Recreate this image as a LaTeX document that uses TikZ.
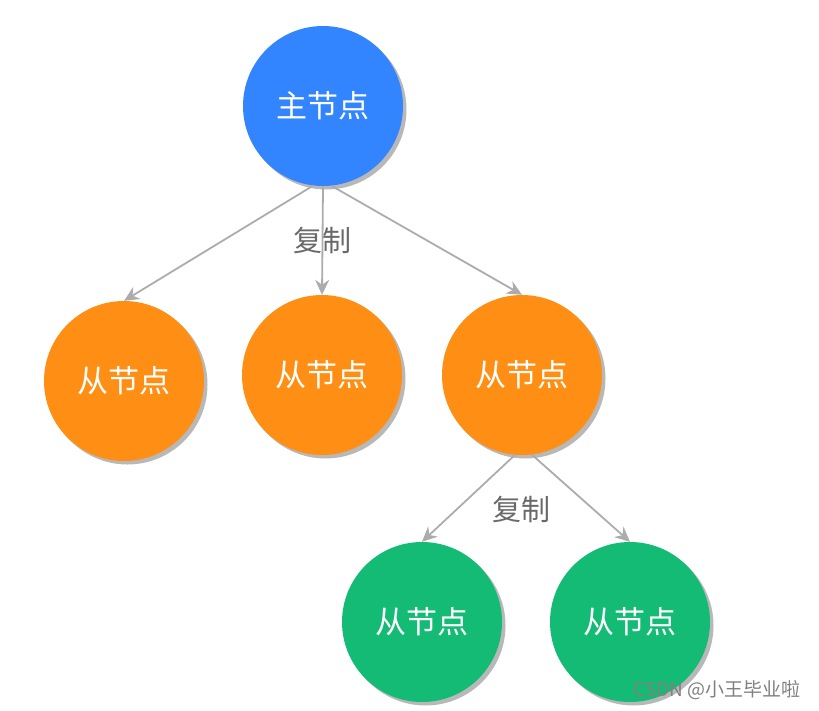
\documentclass[tikz,border=0pt]{standalone}
\usepackage{fontspec}
\newfontfamily\cjk{Noto Sans CJK SC}
\usetikzlibrary{arrows.meta}
\definecolor{mainblue}{RGB}{51,133,255}
\definecolor{orng}{RGB}{255,143,20}
\definecolor{grn}{RGB}{20,187,117}
\definecolor{edgegray}{RGB}{172,172,172}
\definecolor{labgray}{RGB}{105,105,105}
\tikzset{
  ball/.style={circle, minimum size=160pt, inner sep=0pt, text=white,
    font=\cjk\fontsize{31}{31}\selectfont,
    preaction={fill=black!35, opacity=0.8, transform canvas={shift={(3.5pt,-3.5pt)}}}},
  bluenode/.style={ball, fill=mainblue},
  orangenode/.style={ball, fill=orng},
  greennode/.style={ball, fill=grn},
  link/.style={draw=edgegray, line width=1.8pt, -{Stealth[length=15pt, width=14pt, inset=5pt]}},
  lab/.style={text=labgray, font=\cjk\fontsize{29}{29}\selectfont, inner sep=0pt},
}
\begin{document}
\begin{tikzpicture}[x=1pt, y=-1pt]
\useasboundingbox (0,0) rectangle (819,710);
\node[bluenode] (m) at (323,106) {主节点};
\node[orangenode] (s1) at (124,381) {从节点};
\node[orangenode] (s2) at (322,375) {从节点};
\node[orangenode] (s3) at (522,375) {从节点};
\node[greennode] (g1) at (422,622) {从节点};
\node[greennode] (g2) at (630,622) {从节点};
\draw[link] (m.-97) -- (s1.north);
\draw[link] (m.south) -- (s2.north);
\draw[link] (m.-84) -- (s3.north);
\draw[link] (s3.-95) -- (g1.north);
\draw[link] (s3.-83) -- (g2.north);
\node[lab] (l1) at (322,240) {复制};
\node[lab] (l2) at (521,509) {复制};
\node[text=black!50, font=\cjk\fontsize{19}{19}\selectfont, inner sep=0pt] (wm) at (717,690) {CSDN @小王毕业啦};
\end{tikzpicture}
\end{document}
